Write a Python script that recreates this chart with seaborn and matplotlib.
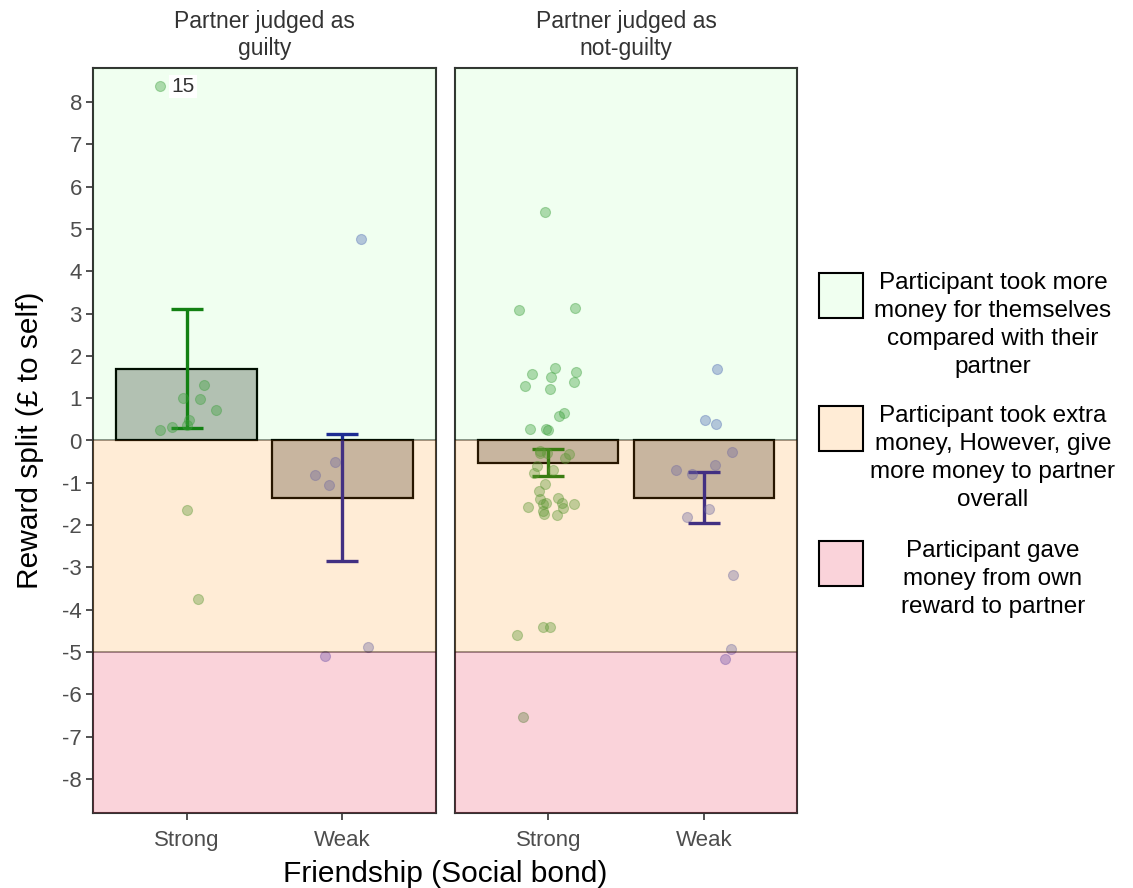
import numpy as np
import pandas as pd
import matplotlib
matplotlib.use("Agg")
import matplotlib.pyplot as plt
from matplotlib.patches import Rectangle
import seaborn as sns

# ---------------------------------------------------------------- data
bond_levels = ["Strong", "Weak"]
facet_titles = ["Partner judged as\nguilty", "Partner judged as\nnot-guilty"]

# group means and standard errors of the reward split
mean_guilty = [1.70, -1.35]
se_guilty = [1.40, 1.50]
mean_notguilty = [-0.52, -1.35]
se_notguilty = [0.33, 0.60]

# individual participants
guilty_strong = [8.37, 1.32, 1.00, 0.99, 0.73, 0.49, 0.37, 0.25, 0.31, -1.65, -3.74]
guilty_weak = [4.77, -0.51, -0.81, -1.05, -4.87, -5.10]
notguilty_strong = [5.40, 3.14, 3.08, 1.71, 1.61, 1.56, 1.51, 1.39, 1.29, 1.21,
                    0.65, 0.57, 0.28, 0.27, 0.24, -0.24, -0.30, -0.30, -0.33, -0.41,
                    -0.61, -0.69, -0.76, -1.02, -1.19, -1.35, -1.39, -1.47, -1.48,
                    -1.49, -1.51, -1.56, -1.59, -1.67, -1.74, -1.77, -4.40, -4.40,
                    -4.59, -6.54]
notguilty_weak = [1.68, 0.49, 0.39, -0.28, -0.57, -0.69, -0.80, -1.63, -1.81,
                  -3.17, -4.92, -5.17]

outlier_id = "15"   # participant id of the highest guilty/strong split

band_breaks = [0, -5]
legend_labels = [
    "Participant took more\nmoney for themselves\ncompared with their\npartner",
    "Participant took extra\nmoney, However, give\nmore money to partner\noverall",
    "Participant gave\nmoney from own\nreward to partner",
]

# ---------------------------------------------------------------- style
sns.set_style("white")
plt.rcParams["font.family"] = ["Liberation Sans", "DejaVu Sans"]
plt.rcParams["axes.unicode_minus"] = False

y_limits = (-8.8, 8.8)
band_colors = ["#00ff00", "#ff8c00", "#e8173f"]
band_alphas = [0.06, 0.16, 0.19]
point_colors = {"Strong": "#3f9a3f", "Weak": "#5563c0"}
err_colors = {"Strong": "#157a15", "Weak": "#1f1f9c"}
tick_grey = "#4d4d4d"
frame_grey = "#333333"

W, H = 1133, 888
fig = plt.figure(figsize=(W / 100, H / 100), dpi=100)


def px_axes(left, top, right, bottom):
    return fig.add_axes([left / W, 1 - bottom / H, (right - left) / W, (bottom - top) / H])


ax1 = px_axes(93, 68, 436, 813)
ax2 = px_axes(455, 68, 797, 813)

panels = [
    (ax1, mean_guilty, se_guilty, {"Strong": guilty_strong, "Weak": guilty_weak}),
    (ax2, mean_notguilty, se_notguilty, {"Strong": notguilty_strong, "Weak": notguilty_weak}),
]

np.random.seed(7)
for ax, means, ses, pts in panels:
    summary = pd.DataFrame({"bond": bond_levels, "mean": means})
    sns.barplot(data=summary, x="bond", y="mean", order=bond_levels,
                color="#bebebe", saturation=1, edgecolor="black", linewidth=1.6,
                width=0.9, errorbar=None, ax=ax, zorder=1)

    for i, b in enumerate(bond_levels):
        ax.errorbar(i, means[i], yerr=ses[i], fmt="none", ecolor=err_colors[b],
                    elinewidth=2.4, capsize=11.5, capthick=2.4, zorder=3)

    for b in bond_levels:
        df = pd.DataFrame({"bond": b, "split": pts[b]})
        sns.stripplot(data=df, x="bond", y="split", order=bond_levels,
                      color=point_colors[b], edgecolor=point_colors[b], linewidth=0.8,
                      jitter=0.2, size=7.2, alpha=0.38, ax=ax, zorder=4)

    # shaded outcome regions drawn over the data
    limits = [(band_breaks[0], y_limits[1]), (band_breaks[1], band_breaks[0]),
              (y_limits[0], band_breaks[1])]
    for (lo, hi), c, a in zip(limits, band_colors, band_alphas):
        ax.axhspan(lo, hi, color=c, alpha=a, lw=0, zorder=6)
    for yb in band_breaks:
        ax.axhline(yb, color="black", alpha=0.55, lw=1.1, zorder=5)

    ax.set_xlim(-0.6, 1.6)
    ax.set_ylim(*y_limits)
    ax.set_yticks(np.arange(-8, 9, 1))
    ax.set_xlabel("")
    ax.set_ylabel("")
    for sp in ax.spines.values():
        sp.set_color(frame_grey)
        sp.set_linewidth(1.5)
        sp.set_visible(True)
    ax.tick_params(axis="both", direction="out", length=5, width=1.2,
                   color=frame_grey, labelcolor=tick_grey, labelsize=16, pad=3)
    ax.tick_params(axis="x", pad=7)
    ax.grid(False)

ax2.tick_params(axis="y", left=False, labelleft=False)
ax1.tick_params(axis="y", left=True)
ax1.tick_params(axis="x", bottom=True)
ax2.tick_params(axis="x", bottom=True)

# label the highest guilty/strong participant
strong_pts = ax1.collections[2].get_offsets()
k = int(np.argmax(strong_pts[:, 1]))
ax1.annotate(outlier_id, (strong_pts[k, 0], strong_pts[k, 1]), xytext=(8, 0),
             textcoords="offset points", ha="left", va="center", fontsize=15,
             color="#333333", bbox=dict(fc="white", ec="none", pad=1.5), zorder=9)

# facet strips
for ax, title in zip([ax1, ax2], facet_titles):
    bb = ax.get_position()
    fig.text(bb.x0 + bb.width / 2, 1 - 35 / H, title, ha="center", va="center",
             fontsize=16.5, color="#333333", linespacing=1.2)

# axis titles
fig.text(445 / W, 1 - 874 / H, "Friendship (Social bond)", ha="center", va="center",
         fontsize=21.5, color="black")
fig.text(30 / W, 1 - 440 / H, "Reward split (£ to self)", ha="center", va="center",
         rotation=90, fontsize=21.5, color="black")

# legend of the shaded regions
key_tops = [273, 406, 541]
for top, c, a, lab in zip(key_tops, band_colors, band_alphas, legend_labels):
    fig.add_artist(Rectangle((819 / W, 1 - (top + 45) / H), 44 / W, 45 / H,
                             transform=fig.transFigure, facecolor=c, alpha=a,
                             edgecolor="none"))
    fig.add_artist(Rectangle((819 / W, 1 - (top + 45) / H), 44 / W, 45 / H,
                             transform=fig.transFigure, facecolor="none",
                             edgecolor="black", lw=1.5))
    fig.text(993 / W, 1 - (top - 1) / H, lab, ha="center", va="top",
             fontsize=17.5, color="black", linespacing=1.36,
             multialignment="center")

fig.savefig("out.png", dpi=100)
